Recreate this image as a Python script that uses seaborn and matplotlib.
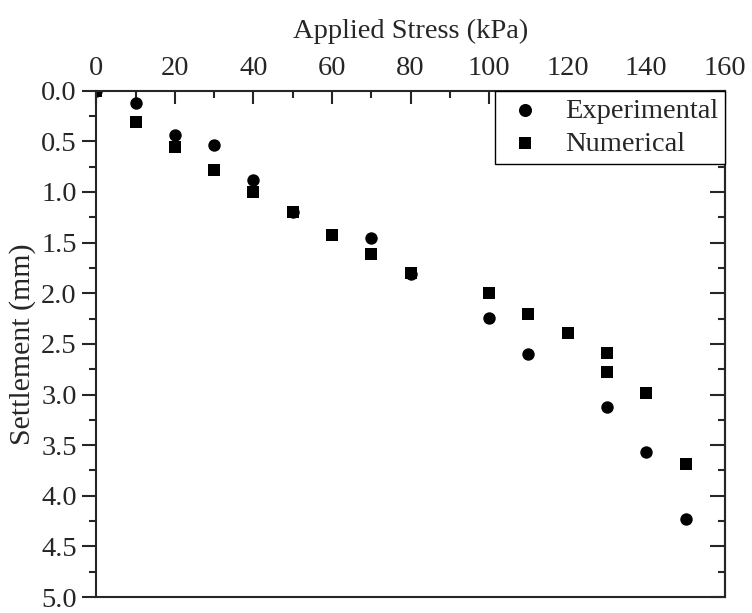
import numpy as np
import pandas as pd
import seaborn as sns
import matplotlib.pyplot as plt
from matplotlib.ticker import MultipleLocator, FormatStrFormatter

# data
exp_stress = [0, 10, 20, 30, 40, 50, 70, 80, 100, 110, 130, 140, 150]
exp_settle = [0.0, 0.12, 0.44, 0.54, 0.88, 1.20, 1.45, 1.81, 2.24, 2.60, 3.12, 3.57, 4.23]

num_stress = [0, 10, 20, 30, 40, 50, 60, 70, 80, 100, 110, 120, 130, 130, 140, 150]
num_settle = [0.0, 0.31, 0.56, 0.78, 1.00, 1.20, 1.42, 1.61, 1.80, 2.00, 2.20, 2.39, 2.59, 2.78, 2.98, 3.69]

df_exp = pd.DataFrame({"stress": exp_stress, "settle": exp_settle})
df_num = pd.DataFrame({"stress": num_stress, "settle": num_settle})

sns.set_style("ticks")
plt.rcParams['font.family'] = ['Liberation Serif', 'DejaVu Serif']

fig, ax = plt.subplots(figsize=(7.52, 6.13), dpi=100)
fig.subplots_adjust(left=0.128, right=0.964, top=0.852, bottom=0.026)

sns.scatterplot(data=df_exp, x="stress", y="settle", marker="o", s=80, color="black",
                edgecolor="black", linewidth=0, label="Experimental", ax=ax)
sns.scatterplot(data=df_num, x="stress", y="settle", marker="s", s=75, color="black",
                edgecolor="black", linewidth=0, label="Numerical", ax=ax)

ax.set_xlim(0, 160)
ax.set_ylim(5.0, 0.0)
ax.xaxis.tick_top()
ax.xaxis.set_label_position("top")
ax.xaxis.set_major_locator(MultipleLocator(20))
ax.xaxis.set_minor_locator(MultipleLocator(10))
ax.yaxis.set_major_locator(MultipleLocator(0.5))
ax.yaxis.set_minor_locator(MultipleLocator(0.25))
ax.yaxis.set_major_formatter(FormatStrFormatter('%.1f'))

# top axis: inward ticks
ax.tick_params(axis='x', which='both', direction='in', top=True, bottom=False,
               labelsize=20.5, pad=7, width=1.5)
ax.tick_params(axis='x', which='major', length=9)
ax.tick_params(axis='x', which='minor', length=5)
# left axis: outward ticks
ax.tick_params(axis='y', which='both', direction='out', left=True, right=False,
               labelsize=20.5, pad=4, width=1.5)
ax.tick_params(axis='y', which='major', length=10)
ax.tick_params(axis='y', which='minor', length=5)

# right axis: inward ticks, no labels
sec = ax.secondary_yaxis('right')
sec.yaxis.set_major_locator(MultipleLocator(0.5))
sec.yaxis.set_minor_locator(MultipleLocator(0.25))
sec.tick_params(which='both', direction='in', labelright=False, width=1.5)
sec.tick_params(which='major', length=11)
sec.tick_params(which='minor', length=5)
sec.spines['right'].set_linewidth(1.5)

for sp in ax.spines.values():
    sp.set_linewidth(1.5)
    sp.set_visible(True)

ax.set_xlabel("Applied Stress (kPa)", fontsize=20.5, labelpad=13)
ax.set_ylabel("Settlement (mm)", fontsize=21.5, labelpad=4)

leg = ax.legend(loc="upper right", fontsize=20.5, frameon=True, fancybox=False,
                borderaxespad=0, handletextpad=0.6, borderpad=0.25, labelspacing=0.25,
                handlelength=1.6, markerscale=1.05)
leg.get_frame().set_edgecolor("black")
leg.get_frame().set_linewidth(1.0)
leg.get_frame().set_alpha(1)

fig.savefig("out.png", dpi=100)
